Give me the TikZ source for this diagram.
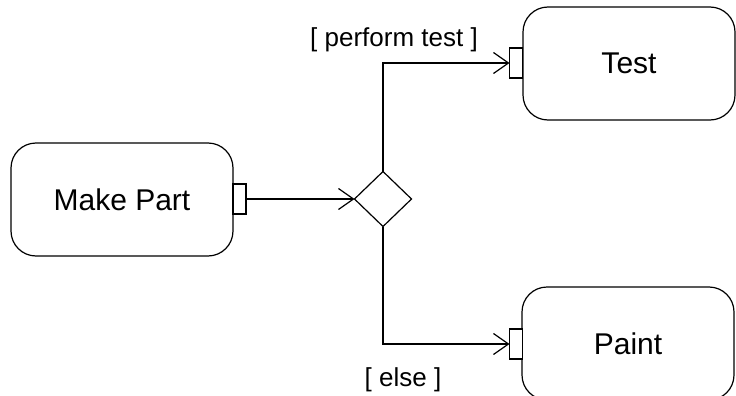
\documentclass[tikz,border=0pt]{standalone}
\usepackage{fontspec}
\setmainfont{Liberation Sans}
\usetikzlibrary{arrows.meta,shapes.geometric}
\begin{document}
\begin{tikzpicture}[x=1pt,y=-1pt,
  every node/.style={inner sep=0pt, outer sep=0pt},
  action/.style={draw, line width=1.2pt, rounded corners=25pt, minimum width=212pt, minimum height=113pt, font=\fontsize{30}{36}\selectfont},
  pin/.style={draw, line width=1.2pt, minimum width=13pt, minimum height=30pt, fill=white},
  decision/.style={draw, line width=1.2pt, diamond, minimum width=57pt, minimum height=55pt},
  guard/.style={font=\fontsize{26}{31}\selectfont},
  flow/.style={line width=1.2pt, -{Straight Barb[length=15pt,width=21pt,line width=1.2pt]}}]
\useasboundingbox (0,0) rectangle (736,396);
\clip (0,0) rectangle (736,396);
\node[action, minimum width=222pt] (make) at (122,199.5) {Make Part};
\node[action] (test) at (629,63.5) {Test};
\node[action] (paint) at (628,343.5) {Paint};
\node[pin] (pmake) at (239.5,199) {};
\node[pin] (ptest) at (516,63) {};
\node[pin] (ppaint) at (516,344) {};
\node[decision] (dec) at (383,199) {};
\node[guard] (gtest) at (394,40) {[ perform test ]};
\node[guard] (gelse) at (403,380) {[ else ]};
\draw[flow] (pmake.east) -- (dec.west);
\draw[flow] (dec.north) |- (ptest.west);
\draw[flow] (dec.south) |- (ppaint.west);
\end{tikzpicture}
\end{document}
